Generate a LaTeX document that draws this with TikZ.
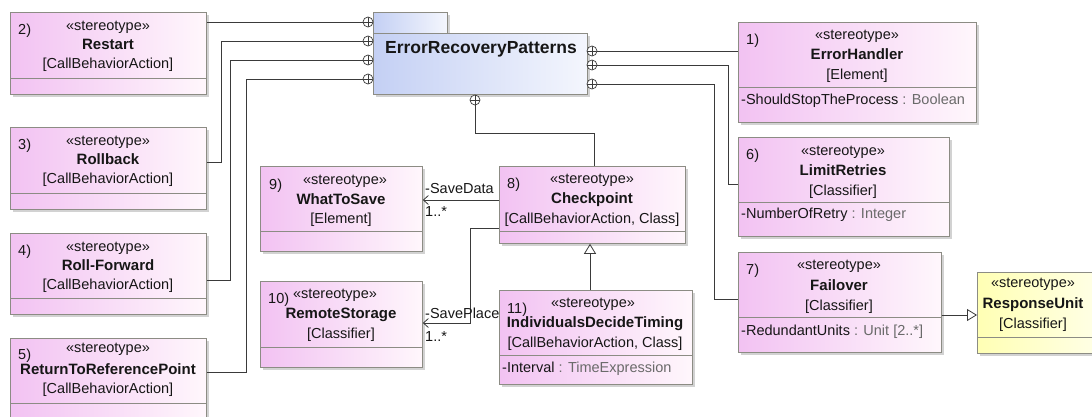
\documentclass[tikz,border=0pt]{standalone}
\usepackage{fontspec}
\setmainfont{Liberation Sans}
\usetikzlibrary{arrows.meta,calc,shadows}
\definecolor{edge}{HTML}{8C8C84}
\definecolor{wire}{HTML}{3A3A3A}
\definecolor{pinkl}{HTML}{F2C2F2}
\definecolor{pinkr}{HTML}{FFF7FC}
\definecolor{bluel}{HTML}{C4D0F4}
\definecolor{bluer}{HTML}{F4F6FD}
\definecolor{yell}{HTML}{FFFFB4}
\definecolor{yelr}{HTML}{FFFFE4}
\definecolor{ink}{HTML}{161616}
\definecolor{muted}{HTML}{6A6A6A}
\newcommand{\reg}{\fontsize{14.5}{17}\selectfont}
\newcommand{\heavy}{\fontsize{15}{18}\selectfont\bfseries}
\newcommand{\pkgfont}{\fontsize{17.5}{20}\selectfont\bfseries}

\begin{document}
\begin{tikzpicture}[x=1pt,y=-1pt,text=ink,
  cls/.style={draw=edge,line width=0.8pt,left color=pinkl,right color=pinkr,anchor=north west,inner sep=0,
    drop shadow={shadow xshift=3pt,shadow yshift=-3pt,fill=black!35}},
  unit/.style={cls,left color=yell,right color=yelr},
  pkg/.style={cls,left color=bluel,right color=bluer},
  divider/.style={draw=edge,line width=0.8pt},
  st/.style={inner sep=0,anchor=base,font=\reg},
  nm/.style={inner sep=0,anchor=base,font=\heavy},
  no/.style={inner sep=0,anchor=base west,font=\reg},
  att/.style={inner sep=0,anchor=base west,font=\reg},
  conn/.style={draw=wire,line width=0.8pt},
  assoc/.style={conn,-{Straight Barb[length=5pt,width=9pt]}},
  gen/.style={conn,-{Triangle[open,length=10pt,width=12pt]}},
  port/.style={circle,draw=wire,line width=0.7pt,fill=white,minimum size=10pt,inner sep=0,
    path picture={\draw[wire,line width=0.7pt] (path picture bounding box.north) -- (path picture bounding box.south)
      (path picture bounding box.west) -- (path picture bounding box.east);}}]
\useasboundingbox (0,0) rectangle (1092,416);

% package
\node[pkg,minimum width=74,minimum height=22] (pkgtab) at (373,12) {};
\node[pkg,minimum width=214,minimum height=61] (pkg) at (373,33) {};
\node[inner sep=0,anchor=base west,font=\pkgfont] (pkg-nm) at (385,53) {ErrorRecoveryPatterns};
\node[port] (pl1) at (368,22) {};
\node[port] (pl2) at (368,41) {};
\node[port] (pl3) at (368,60) {};
\node[port] (pl4) at (368,79) {};
\node[port] (pr1) at (592,51) {};
\node[port] (pr2) at (592,65) {};
\node[port] (pr3) at (592,84) {};
\node[port] (pb) at (475,100) {};

% left column
\node[cls,minimum width=196,minimum height=82] (restart) at (10,12) {};
\draw[divider] (restart.west |- 0,78) -- (restart.east |- 0,78);
\node[no] (restart-no) at (18,34) {2)};
\node[st] (restart-st) at (108,30) {«stereotype»};
\node[nm] (restart-nm) at (108,49) {Restart};
\node[st] (restart-ty) at (108,68) {[CallBehaviorAction]};

\node[cls,minimum width=196,minimum height=82] (rollback) at (10,127) {};
\draw[divider] (rollback.west |- 0,193) -- (rollback.east |- 0,193);
\node[no] (rollback-no) at (18,149) {3)};
\node[st] (rollback-st) at (108,145) {«stereotype»};
\node[nm] (rollback-nm) at (108,164) {Rollback};
\node[st] (rollback-ty) at (108,183) {[CallBehaviorAction]};

\node[cls,minimum width=196,minimum height=81] (rollfwd) at (10,233) {};
\draw[divider] (rollfwd.west |- 0,298) -- (rollfwd.east |- 0,298);
\node[no] (rollfwd-no) at (18,255) {4)};
\node[st] (rollfwd-st) at (108,251) {«stereotype»};
\node[nm] (rollfwd-nm) at (108,270) {Roll-Forward};
\node[st] (rollfwd-ty) at (108,289) {[CallBehaviorAction]};

\node[cls,minimum width=196,minimum height=82] (returnref) at (10,338) {};
\draw[divider] (returnref.west |- 0,403) -- (returnref.east |- 0,403);
\node[no] (returnref-no) at (18,359) {5)};
\node[st] (returnref-st) at (108,352) {«stereotype»};
\node[nm] (returnref-nm) at (108,374) {ReturnToReferencePoint};
\node[st] (returnref-ty) at (108,393) {[CallBehaviorAction]};

% middle
\node[cls,minimum width=162,minimum height=85] (whattosave) at (260,166) {};
\draw[divider] (whattosave.west |- 0,231) -- (whattosave.east |- 0,231);
\node[no] (whattosave-no) at (269,189) {9)};
\node[st] (whattosave-st) at (345,184) {«stereotype»};
\node[nm] (whattosave-nm) at (341,204) {WhatToSave};
\node[st] (whattosave-ty) at (341,223) {[Element]};

\node[cls,minimum width=162,minimum height=86] (remotestorage) at (260,281) {};
\draw[divider] (remotestorage.west |- 0,347) -- (remotestorage.east |- 0,347);
\node[no] (remotestorage-no) at (268,303) {10)};
\node[st] (remotestorage-st) at (335,298) {«stereotype»};
\node[nm] (remotestorage-nm) at (341,318) {RemoteStorage};
\node[st] (remotestorage-ty) at (341,338) {[Classifier]};

\node[cls,minimum width=186,minimum height=77] (checkpoint) at (499,166) {};
\draw[divider] (checkpoint.west |- 0,231) -- (checkpoint.east |- 0,231);
\node[no] (checkpoint-no) at (507,188) {8)};
\node[st] (checkpoint-st) at (592,183) {«stereotype»};
\node[nm] (checkpoint-nm) at (592,203) {Checkpoint};
\node[st] (checkpoint-ty) at (592,223) {[CallBehaviorAction, Class]};

\node[cls,minimum width=193,minimum height=94] (individuals) at (499,290) {};
\draw[divider] (individuals.west |- 0,355) -- (individuals.east |- 0,355);
\node[no] (individuals-no) at (507,313) {11)};
\node[st] (individuals-st) at (593,307) {«stereotype»};
\node[nm] (individuals-nm) at (595,327) {IndividualsDecideTiming};
\node[st] (individuals-ty) at (595,347) {[CallBehaviorAction, Class]};
\node[att] (individuals-at) at (502,372) {-Interval \textcolor{muted}{: TimeExpression}};

% right column
\node[cls,minimum width=238,minimum height=100] (errhandler) at (738,22) {};
\draw[divider] (errhandler.west |- 0,87) -- (errhandler.east |- 0,87);
\node[no] (errhandler-no) at (746,44) {1)};
\node[st] (errhandler-st) at (857,39) {«stereotype»};
\node[nm] (errhandler-nm) at (857,59) {ErrorHandler};
\node[st] (errhandler-ty) at (857,79) {[Element]};
\node[att] (errhandler-at) at (741,104) {-ShouldStopTheProcess \textcolor{muted}{: Boolean}};

\node[cls,minimum width=211,minimum height=99] (limitretries) at (738,137) {};
\draw[divider] (limitretries.west |- 0,202) -- (limitretries.east |- 0,202);
\node[no] (limitretries-no) at (746,159) {6)};
\node[st] (limitretries-st) at (843,155) {«stereotype»};
\node[nm] (limitretries-nm) at (843,175) {LimitRetries};
\node[st] (limitretries-ty) at (843,195) {[Classifier]};
\node[att] (limitretries-at) at (741,218) {-NumberOfRetry \textcolor{muted}{: Integer}};

\node[cls,minimum width=203,minimum height=100] (failover) at (738,252) {};
\draw[divider] (failover.west |- 0,317) -- (failover.east |- 0,317);
\node[no] (failover-no) at (746,274) {7)};
\node[st] (failover-st) at (839,269) {«stereotype»};
\node[nm] (failover-nm) at (839,290) {Failover};
\node[st] (failover-ty) at (839,310) {[Classifier]};
\node[att] (failover-at) at (741,335) {-RedundantUnits \textcolor{muted}{: Unit [2..*]}};

\node[unit,minimum width=116,minimum height=81] (respunit) at (977,272) {};
\draw[divider] (respunit.west |- 0,337) -- (respunit.east |- 0,337);
\node[st] (respunit-st) at (1033,287) {«stereotype»};
\node[nm] (respunit-nm) at (1033,308) {ResponseUnit};
\node[st] (respunit-ty) at (1033,328) {[Classifier]};

% containment
\draw[conn] (restart.east |- pl1) -- (pl1);
\draw[conn] (rollback.east |- 0,162) -| (221,41) -- (pl2);
\draw[conn] (rollfwd.east |- 0,280) -| (230,60) -- (pl3);
\draw[conn] (returnref.east |- 0,372) -| (246,79) -- (pl4);
\draw[conn] (pr1) -- (errhandler.west |- pr1);
\draw[conn] (pr2) -| (728,184) -- (limitretries.west |- 0,184);
\draw[conn] (pr3) -| (714,299) -- (failover.west |- 0,299);
\draw[conn] (pb) |- (594,133) -- (checkpoint.north -| 594,0);

% associations
\draw[assoc] (checkpoint.west |- 0,200) -- (whattosave.east |- 0,200);
\node[att] (savedata) at (425,193) {-SaveData};
\node[att] (savedata-m) at (425,216) {1..*};
\draw[assoc] (checkpoint.west |- 0,228) -| (470,323) -- (remotestorage.east |- 0,323);
\node[att] (saveplace) at (425,318) {-SavePlace};
\node[att] (saveplace-m) at (425,341) {1..*};

% generalizations
\draw[gen] (individuals.north -| 590,0) -- (checkpoint.south -| 590,0);
\draw[gen] (failover.east |- 0,315) -- (respunit.west |- 0,315);
\end{tikzpicture}
\end{document}
